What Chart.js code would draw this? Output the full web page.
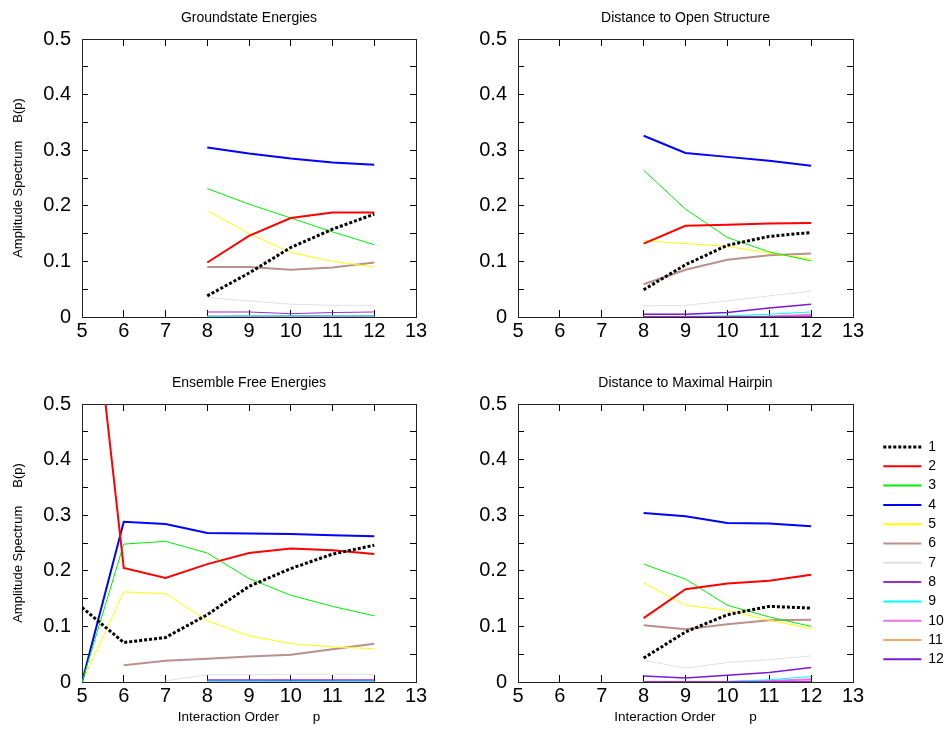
<!DOCTYPE html>
<html>
<head>
<meta charset="utf-8">
<title>Amplitude spectra</title>
<script src="https://cdn.jsdelivr.net/npm/chart.js@4.4.0/dist/chart.umd.min.js"></script>
<style>
  body { margin: 0; background: #fff; }
  #wrap { position: relative; width: 949px; height: 740px; }
  canvas { position: absolute; }
</style>
</head>
<body>
<div id="wrap">
  <canvas id="gs" width="440" height="365" style="left:0;top:0"></canvas>
  <canvas id="os" width="440" height="365" style="left:440px;top:0"></canvas>
  <canvas id="ef" width="440" height="375" style="left:0;top:365px"></canvas>
  <canvas id="mh" width="509" height="375" style="left:440px;top:365px"></canvas>
</div>
<script>
// interaction order p on the x axis
const orders = [5, 6, 7, 8, 9, 10, 11, 12];
const seriesNames = ['1', '2', '3', '4', '5', '6', '7', '8', '9', '10', '11', '12'];

// B(p) per series, one row per series 1..12, columns p = 5..12
const groundstate = [
  [null, null, null, 0.038, 0.079, 0.125, 0.158, 0.185],
  [null, null, null, 0.098, 0.146, 0.178, 0.188, 0.188],
  [null, null, null, 0.231, 0.203, 0.178, 0.153, 0.130],
  [null, null, null, 0.305, 0.294, 0.285, 0.278, 0.274],
  [null, null, null, 0.191, 0.150, 0.116, 0.100, 0.090],
  [null, null, null, 0.090, 0.090, 0.085, 0.089, 0.098],
  [null, null, null, 0.035, 0.029, 0.023, 0.021, 0.021],
  [null, null, null, 0.009, 0.009, 0.006, 0.008, 0.009],
  [null, null, null, 0.001, 0.002, 0.002, 0.002, 0.002],
  [null, null, null, 0.000, 0.001, 0.001, 0.001, 0.001],
  [null, null, null, 0.001, 0.001, 0.000, 0.001, 0.001],
  [null, null, null, 0.001, 0.001, 0.002, 0.002, 0.002]
];

const openStructure = [
  [null, null, null, 0.049, 0.094, 0.129, 0.145, 0.152],
  [null, null, null, 0.132, 0.164, 0.166, 0.168, 0.169],
  [null, null, null, 0.264, 0.194, 0.143, 0.117, 0.101],
  [null, null, null, 0.326, 0.295, 0.288, 0.281, 0.272],
  [null, null, null, 0.137, 0.132, 0.127, 0.115, 0.104],
  [null, null, null, 0.059, 0.085, 0.103, 0.111, 0.114],
  [null, null, null, 0.020, 0.021, 0.029, 0.038, 0.046],
  [null, null, null, 0.001, 0.001, 0.001, 0.001, 0.001],
  [null, null, null, 0.000, 0.001, 0.002, 0.005, 0.009],
  [null, null, null, 0.000, 0.000, 0.000, 0.001, 0.004],
  [null, null, null, 0.000, 0.000, 0.000, 0.000, 0.001],
  [null, null, null, 0.005, 0.005, 0.008, 0.016, 0.023]
];

const freeEnergies = [
  [0.134, 0.071, 0.080, 0.121, 0.172, 0.204, 0.230, 0.246],
  [0.880, 0.205, 0.187, 0.212, 0.232, 0.240, 0.237, 0.230],
  [0.000, 0.248, 0.253, 0.232, 0.186, 0.156, 0.136, 0.119],
  [0.000, 0.288, 0.284, 0.268, 0.267, 0.266, 0.264, 0.262],
  [0.000, 0.162, 0.159, 0.110, 0.083, 0.069, 0.063, 0.060],
  [null, 0.030, 0.038, 0.042, 0.046, 0.049, 0.059, 0.069],
  [null, null, 0.002, 0.013, 0.013, 0.014, 0.014, 0.014],
  [null, null, null, 0.004, 0.004, 0.004, 0.004, 0.004],
  [null, null, null, 0.001, 0.001, 0.001, 0.001, 0.001],
  [null, null, null, 0.001, 0.001, 0.000, 0.001, 0.001],
  [null, null, null, 0.000, 0.000, 0.000, 0.000, 0.000],
  [null, null, null, 0.002, 0.002, 0.002, 0.002, 0.002]
];

const maxHairpin = [
  [null, null, null, 0.043, 0.090, 0.121, 0.136, 0.133],
  [null, null, null, 0.115, 0.167, 0.177, 0.182, 0.193],
  [null, null, null, 0.212, 0.185, 0.138, 0.117, 0.100],
  [null, null, null, 0.304, 0.298, 0.286, 0.285, 0.280],
  [null, null, null, 0.178, 0.138, 0.129, 0.111, 0.096],
  [null, null, null, 0.102, 0.095, 0.104, 0.111, 0.112],
  [null, null, null, 0.039, 0.025, 0.035, 0.040, 0.047],
  [null, null, null, 0.001, 0.001, 0.001, 0.001, 0.001],
  [null, null, null, 0.000, 0.000, 0.001, 0.004, 0.010],
  [null, null, null, 0.000, 0.000, 0.000, 0.002, 0.005],
  [null, null, null, 0.000, 0.000, 0.000, 0.000, 0.001],
  [null, null, null, 0.011, 0.007, 0.012, 0.017, 0.026]
];

const seriesColors = ['#000000', '#ff0000', '#00ee00', '#0000ff', '#ffff00', '#bc8f8f',
                      '#e0e0e0', '#9b30d0', '#00ffff', '#f070e0', '#f8a860', '#7a1ad8'];
const seriesWidths = [3, 2, 1, 2, 1, 2, 1, 1, 1, 2, 2, 1.5];

Chart.defaults.font.family = '"Liberation Sans", Arial, sans-serif';
Chart.defaults.color = '#000';

// legend sits right of the last panel, at a fixed width
const legendPlace = {
    id: 'legendPlace',
    beforeLayout(chart) {
        const lg = chart.legend;
        if (lg && !lg.fixedFit) {
            const fit = lg.fit;
            lg.fit = function () { fit.call(this); this.width = 96; };
            lg.fixedFit = true;
        }
    },
    afterLayout(chart) {
        chart.legend.left = chart.chartArea.right + 25;
    }
};

function buildDatasets(rows) {
    return rows.map((row, i) => ({
        label: seriesNames[i],
        data: orders.map((p, j) => ({ x: p, y: row[j] })),
        borderColor: seriesColors[i],
        backgroundColor: seriesColors[i],
        borderWidth: seriesWidths[i],
        borderDash: i === 0 ? [3, 2] : [],
        pointRadius: 0,
        tension: 0,
        fill: false,
        xAxisID: 'x',
        yAxisID: 'y'
    }));
}

// point-style legend items lose the dash, so put it back
function legendItems(chart) {
    const items = Chart.defaults.plugins.legend.labels.generateLabels(chart);
    items.forEach((it, i) => {
        it.lineDash = chart.data.datasets[i].borderDash;
        it.lineWidth = i === 0 ? 3 : 2;
        it.strokeStyle = chart.data.datasets[i].borderColor;
    });
    return items;
}

function makePanel(id, title, rows, o) {
    const tickLabel = v => {
        const k = Math.round(v * 20);
        if (k % 2) return '';
        return k === 0 ? '0' : (k / 20).toFixed(1);
    };
    return new Chart(document.getElementById(id), {
        type: 'line',
        data: { datasets: buildDatasets(rows) },
        options: {
            responsive: false,
            animation: false,
            devicePixelRatio: 1,
            layout: { padding: { left: 0, right: o.padRight, top: 0, bottom: 0 } },
            plugins: {
                title: {
                    display: true, text: title, fullSize: false,
                    font: { size: 14, weight: 'normal' }, color: '#000',
                    padding: { top: 10, bottom: 12.2 }
                },
                legend: {
                    display: !!o.legend,
                    position: 'right',
                    align: 'start',
                    title: { display: true, text: '', font: { size: 10 }, padding: { top: 57.7, bottom: 0 } },
                    labels: {
                        usePointStyle: true, pointStyle: 'line', pointStyleWidth: 38,
                        font: { size: 14 }, color: '#000', padding: 5.3,
                        generateLabels: legendItems
                    }
                },
                tooltip: { enabled: false }
            },
            scales: {
                x: {
                    type: 'linear', position: 'bottom', min: 5, max: 13,
                    afterFit: s => { s.height = o.xHeight; },
                    ticks: { stepSize: 1, padding: 9, font: { size: 20 }, color: '#000' },
                    grid: { drawOnChartArea: false, tickLength: -7, tickColor: '#000' },
                    border: { color: '#222' },
                    title: {
                        display: !!o.xTitle, text: 'Interaction Order         p',
                        font: { size: 13.5 }, color: '#000', padding: { top: 0, bottom: 15 }
                    }
                },
                x2: {
                    type: 'linear', position: 'top', min: 5, max: 13, display: true,
                    afterFit: s => { s.height = 0; },
                    ticks: { stepSize: 1, display: false },
                    grid: { drawOnChartArea: false, tickLength: -7, tickColor: '#000' },
                    border: { color: '#222' }
                },
                y: {
                    type: 'linear', position: 'left', min: 0, max: 0.5,
                    afterFit: s => { s.width = o.yWidth; },
                    ticks: { stepSize: 0.05, autoSkip: false, padding: 17, font: { size: 20 }, color: '#000', callback: tickLabel },
                    grid: { drawOnChartArea: false, tickLength: -6, tickColor: '#000' },
                    border: { color: '#222' },
                    title: {
                        display: !!o.yTitle, text: 'Amplitude Spectrum     B(p)',
                        font: { size: 13 }, color: '#000', padding: { top: 11, bottom: 0 }
                    }
                },
                y2: {
                    type: 'linear', position: 'right', min: 0, max: 0.5, display: true,
                    afterFit: s => { s.width = 0; },
                    ticks: { stepSize: 0.05, autoSkip: false, display: false },
                    grid: { drawOnChartArea: false, tickLength: -6, tickColor: '#000' },
                    border: { color: '#222' }
                }
            }
        },
        plugins: o.legend ? [legendPlace] : []
    });
}

makePanel('gs', 'Groundstate Energies', groundstate, { yTitle: true, yWidth: 82, xHeight: 48, padRight: 24 });
makePanel('os', 'Distance to Open Structure', openStructure, { yWidth: 78, xHeight: 48, padRight: 27 });
makePanel('ef', 'Ensemble Free Energies', freeEnergies, { yTitle: true, xTitle: true, yWidth: 82, xHeight: 58, padRight: 24 });
makePanel('mh', 'Distance to Maximal Hairpin', maxHairpin, { xTitle: true, legend: true, yWidth: 78, xHeight: 58, padRight: 0 });
</script>
</body>
</html>
